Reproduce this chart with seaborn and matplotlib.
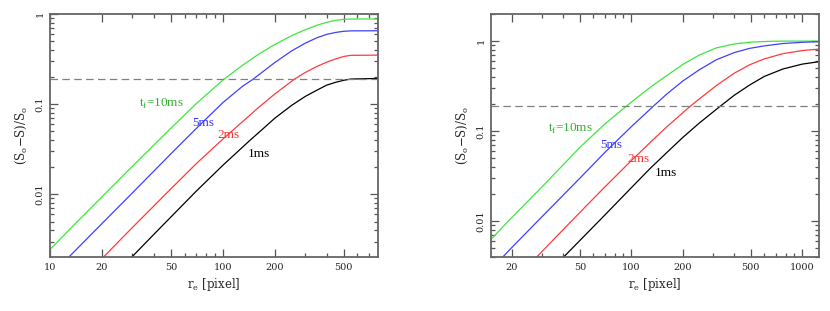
import matplotlib
matplotlib.use("Agg")
import matplotlib.pyplot as plt
import seaborn as sns
import pandas as pd
from matplotlib.ticker import LogLocator, FixedLocator, FixedFormatter, NullFormatter

# ---------------- data ----------------
series_names = ["10ms", "5ms", "2ms", "1ms"]
series_colors = ["#3ee63e", "#4040ff", "#ff3a3a", "#000000"]
label_colors = ["#33b033", "#3a3aff", "#ff3030", "#000000"]
threshold = 0.19

# left panel
L_x_10 = [10, 15, 20, 30, 50, 70, 100, 130, 160, 200, 250, 300, 350, 400, 450, 500, 550, 790]
L_y_10 = [0.00245, 0.0054, 0.0094, 0.0205, 0.054, 0.101, 0.185, 0.27, 0.355, 0.46, 0.575, 0.67,
          0.75, 0.81, 0.85, 0.872, 0.88, 0.88]
L_x_5 = [12.8, 15, 20, 30, 50, 70, 100, 130, 150, 200, 250, 300, 350, 400, 450, 500, 550, 790]
L_y_5 = [0.002, 0.00272, 0.00475, 0.0104, 0.0281, 0.0535, 0.104, 0.158, 0.19, 0.29, 0.39, 0.475,
         0.545, 0.595, 0.625, 0.643, 0.65, 0.652]
L_x_2 = [20.3, 30, 50, 70, 100, 130, 160, 200, 260, 300, 350, 400, 450, 500, 550, 790]
L_y_2 = [0.002, 0.0043, 0.0115, 0.0218, 0.041, 0.064, 0.091, 0.13, 0.19, 0.225, 0.262, 0.293,
         0.318, 0.338, 0.348, 0.35]
L_x_1 = [29.6, 40, 50, 70, 100, 143, 170, 200, 250, 300, 350, 400, 450, 500, 550, 790]
L_y_1 = [0.002, 0.00362, 0.0056, 0.0108, 0.021, 0.0395, 0.053, 0.07, 0.097, 0.122, 0.143,
         0.163, 0.175, 0.184, 0.19, 0.193]

# right panel
R_x_10 = [15, 20, 30, 50, 70, 100, 130, 160, 200, 250, 314, 400, 500, 650, 800, 1250]
R_y_10 = [0.0062, 0.011, 0.024, 0.066, 0.12, 0.21, 0.31, 0.41, 0.55, 0.70, 0.84, 0.93, 0.975,
          0.995, 1.0, 1.0]
R_x_5 = [17.7, 20, 30, 50, 70, 100, 130, 160, 200, 250, 314, 400, 492, 600, 771, 1000, 1250]
R_y_5 = [0.004, 0.0051, 0.0112, 0.030, 0.058, 0.112, 0.178, 0.255, 0.36, 0.48, 0.62, 0.745,
         0.83, 0.885, 0.94, 0.97, 0.985]
R_x_2 = [28, 30, 50, 70, 100, 130, 160, 200, 222, 250, 314, 400, 492, 600, 771, 1000, 1250]
R_y_2 = [0.004, 0.0046, 0.0125, 0.024, 0.047, 0.076, 0.11, 0.16, 0.19, 0.228, 0.32, 0.44, 0.545,
         0.635, 0.725, 0.785, 0.815]
R_x_1 = [40.2, 50, 70, 100, 128, 160, 200, 250, 329, 400, 492, 600, 771, 1000, 1250]
R_y_1 = [0.004, 0.0061, 0.0117, 0.0235, 0.038, 0.057, 0.085, 0.123, 0.187, 0.25, 0.325, 0.405,
         0.49, 0.555, 0.59]

x_ticks_left = [10, 20, 50, 100, 200, 500]
x_ticks_right = [20, 50, 100, 200, 500, 1000]
y_ticks = [0.01, 0.1, 1]
y_ticklabels = ["0.01", "0.1", "1"]
text_labels = [r"t$_{\mathregular{f}}$=10ms", "5ms", "2ms", "1ms"]
L_label_pos = [(32.7, 0.10), (66.8, 0.0615), (93, 0.046), (139, 0.0283)]
R_label_pos = [(32.5, 0.105), (65.9, 0.0704), (94.8, 0.0488), (138, 0.0342)]

# ---------------- figure ----------------
sns.set_style("ticks")
plt.rcParams["font.family"] = ["DejaVu Serif"]

fig = plt.figure(figsize=(8.3, 3.11), dpi=100)
W, H = 830, 311


def make_df(xs, ys):
    rows = []
    for name, x, y in zip(series_names, xs, ys):
        for a, b in zip(x, y):
            rows.append({"r": a, "v": b, "tf": name})
    return pd.DataFrame(rows)


def draw(ax, df, xlim, ylim, xticks, label_pos):
    sns.lineplot(data=df, x="r", y="v", hue="tf", hue_order=series_names,
                 palette=dict(zip(series_names, series_colors)), ax=ax,
                 linewidth=0.9, legend=False, sort=False, estimator=None)
    ax.axhline(threshold, color="#808080", lw=0.9, dashes=(6, 3.5))
    ax.set_xscale("log")
    ax.set_yscale("log")
    ax.set_xlim(*xlim)
    ax.set_ylim(*ylim)
    ax.xaxis.set_major_locator(FixedLocator(xticks))
    ax.xaxis.set_major_formatter(FixedFormatter([str(t) for t in xticks]))
    ax.xaxis.set_minor_locator(LogLocator(base=10, subs=range(2, 10)))
    ax.xaxis.set_minor_formatter(NullFormatter())
    ax.yaxis.set_major_locator(FixedLocator(y_ticks))
    ax.yaxis.set_major_formatter(FixedFormatter(y_ticklabels))
    ax.yaxis.set_minor_locator(LogLocator(base=10, subs=range(2, 10)))
    ax.yaxis.set_minor_formatter(NullFormatter())
    ax.tick_params(which="both", direction="in", top=True, right=True,
                   color="#555555", width=0.9)
    ax.tick_params(which="major", length=5.5, labelsize=7, pad=4)
    ax.tick_params(which="minor", length=3)
    for lab in ax.get_yticklabels():
        lab.set_rotation(90)
        lab.set_va("center")
    for s in ax.spines.values():
        s.set_color("#666666")
        s.set_linewidth(1.3)
    ax.set_xlabel(r"r$_{\mathregular{e}}$ [pixel]", fontsize=8.5, labelpad=3)
    ax.set_ylabel(r"(S$_{\mathregular{o}}$$-$S)/S$_{\mathregular{o}}$", fontsize=8.5, labelpad=5)
    for (px, py), t, c in zip(label_pos, text_labels, label_colors):
        ax.text(px, py, t, color=c, fontsize=9.5, family=["Liberation Serif"],
                ha="left", va="center")


axL = fig.add_axes([50 / W, 1 - 257 / H, 328 / W, 243 / H])
axR = fig.add_axes([491 / W, 1 - 257 / H, 328 / W, 243 / H])

draw(axL, make_df([L_x_10, L_x_5, L_x_2, L_x_1], [L_y_10, L_y_5, L_y_2, L_y_1]),
     (10, 790), (0.00202, 1.0), x_ticks_left, L_label_pos)
draw(axR, make_df([R_x_10, R_x_5, R_x_2, R_x_1], [R_y_10, R_y_5, R_y_2, R_y_1]),
     (15.1, 1254), (0.004, 2.0), x_ticks_right, R_label_pos)

fig.savefig("out.png", dpi=100)
